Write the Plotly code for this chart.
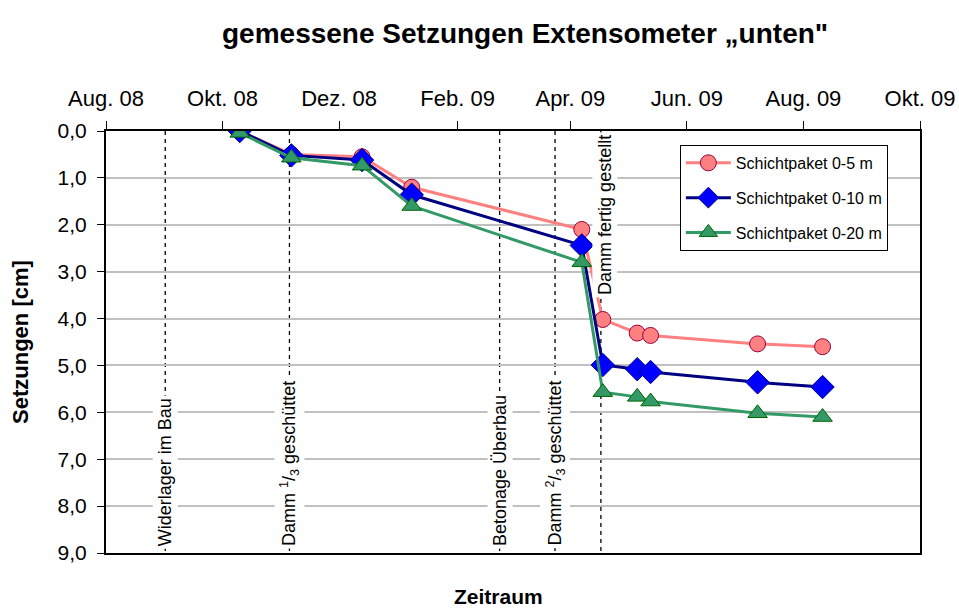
import plotly.graph_objects as go

FONT = "Arial, Liberation Sans, sans-serif"

# Messdaten (Setzungen in cm)
dates = ["2008-10-10", "2008-11-06", "2008-12-13", "2009-01-08", "2009-04-07",
         "2009-04-18", "2009-05-06", "2009-05-13", "2009-07-08", "2009-08-11"]
s_0_5 = [0.0, 0.5, 0.55, 1.2, 2.1, 4.02, 4.31, 4.36, 4.54, 4.6]
s_0_10 = [0.0, 0.52, 0.62, 1.36, 2.44, 4.99, 5.08, 5.14, 5.36, 5.46]
s_0_20 = [0.04, 0.57, 0.74, 1.6, 2.8, 5.57, 5.67, 5.77, 6.02, 6.1]

# Bauphasen
event_dates = ["2008-09-01", "2008-11-05", "2009-02-23", "2009-03-24", "2009-04-17"]
event_labels = ["Widerlager im Bau",
                "Damm <sup>1</sup>/<sub>3</sub> geschüttet",
                "Betonage Überbau",
                "Damm <sup>2</sup>/<sub>3</sub> geschüttet",
                "Damm fertig gestellt"]

tick_dates = ["2008-08-01", "2008-10-01", "2008-12-01", "2009-02-01",
              "2009-04-01", "2009-06-01", "2009-08-01", "2009-10-01"]
tick_labels = ["Aug. 08", "Okt. 08", "Dez. 08", "Feb. 09",
               "Apr. 09", "Jun. 09", "Aug. 09", "Okt. 09"]
y_ticks = [0, 1, 2, 3, 4, 5, 6, 7, 8, 9]

series = [
    ("Schichtpaket 0-5 m", s_0_5, "#ff8080", "circle", "#ff8080", "#99003d", 16),
    ("Schichtpaket 0-10 m", s_0_10, "#000080", "diamond", "#0000ff", "#000080", 18),
    ("Schichtpaket 0-20 m", s_0_20, "#339966", "triangle-up", "#339966", "#006600", 17),
]

fig = go.Figure()

# gestrichelte Linien der Bauphasen
for d in event_dates:
    fig.add_shape(type="line", x0=d, x1=d, y0=0, y1=9, xref="x", yref="y",
                  line=dict(color="black", width=1.3, dash="4px,4px"), layer="below")

for name, vals, lcol, sym, fcol, ocol, size in series:
    fig.add_trace(go.Scatter(
        x=dates, y=vals, name=name, mode="lines+markers", legendgroup=name,
        line=dict(color=lcol, width=3),
        marker=dict(symbol=sym, size=size, color=fcol, line=dict(color=ocol, width=1)),
    ))

for i, (d, lab) in enumerate(zip(event_dates, event_labels)):
    top = i == len(event_dates) - 1
    fig.add_annotation(
        x=d, y=0 if top else 9, xref="x", yref="y", text=lab, showarrow=False,
        textangle=-90, font=dict(family=FONT, size=18, color="black"),
        bgcolor="white", borderpad=2,
        xanchor="center", yanchor="top" if top else "bottom",
        yshift=-1 if top else 4, xshift=4 if top else 0,
    )

fig.add_annotation(x=0.515, y=1.232, xref="paper", yref="paper",
                   text="<b>gemessene Setzungen Extensometer „unten\"</b>",
                   showarrow=False, font=dict(family=FONT, size=28, color="black"),
                   yanchor="middle", xanchor="center")
fig.add_annotation(x=0.4816, y=-0.104, xref="paper", yref="paper", text="<b>Zeitraum</b>",
                   showarrow=False, font=dict(family=FONT, size=21, color="black"),
                   yanchor="middle", xanchor="center")
fig.add_annotation(x=-0.1057, y=0.5, xref="paper", yref="paper", text="<b>Setzungen [cm]</b>",
                   showarrow=False, textangle=-90, font=dict(family=FONT, size=22, color="black"),
                   yanchor="middle", xanchor="center")

fig.update_xaxes(
    side="top", range=["2008-08-01", "2009-10-01"], tickvals=tick_dates, ticktext=tick_labels,
    ticks="outside", ticklen=8, tickcolor="black", tickwidth=1, showgrid=False,
    showline=True, linecolor="black", linewidth=2, mirror=True, ticklabelstandoff=6,
    tickfont=dict(family=FONT, size=22, color="black"), automargin=False,
)
fig.update_yaxes(
    range=[9, 0], tickvals=y_ticks, tickformat=".1f",
    ticks="outside", ticklen=7, tickcolor="black", tickwidth=1,
    showgrid=True, gridcolor="#c0c0c0", gridwidth=1.5,
    showline=True, linecolor="black", linewidth=2, mirror=True, ticklabelstandoff=6,
    tickfont=dict(family=FONT, size=21, color="black"), automargin=False,
)

fig.update_layout(
    width=959, height=609,
    margin=dict(l=106, r=39, t=131, b=56),
    separators=",.",
    plot_bgcolor="white", paper_bgcolor="white",
    font=dict(family=FONT, color="black"),
    legend=dict(x=0.705, y=0.967, xanchor="left", yanchor="top",
                bordercolor="black", borderwidth=1, bgcolor="white",
                font=dict(family=FONT, size=16, color="black"),
                itemwidth=45, tracegroupgap=11),
)

# no default body margin, so the figure fills the window exactly
fig.write_html("out.html", config={"displayModeBar": False},
               post_script="document.body.style.margin='0';")
